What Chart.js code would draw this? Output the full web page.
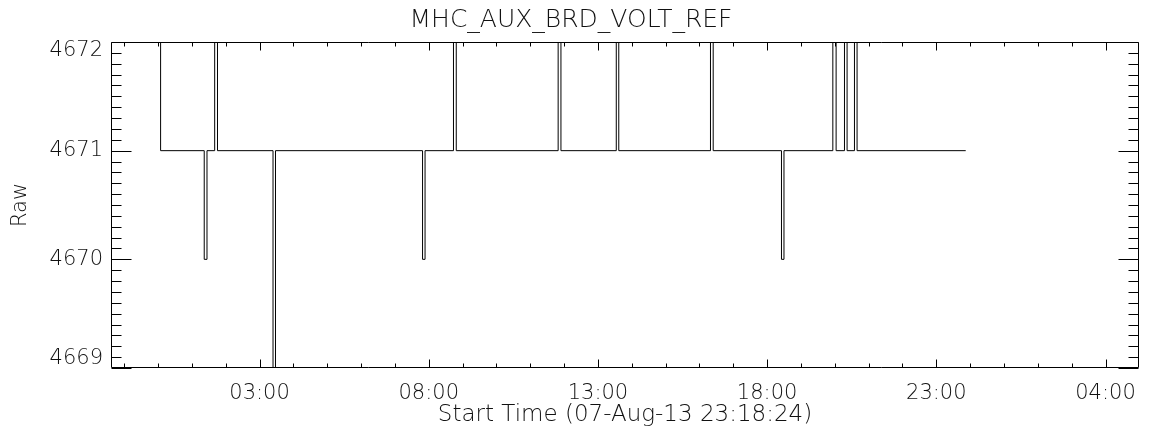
<!DOCTYPE html>
<html>
<head>
<meta charset="utf-8">
<script src="https://cdn.jsdelivr.net/npm/chart.js@4/dist/chart.umd.min.js"></script>
<style>
  body { margin: 0; background: #fff; }
  #wrap { width: 1149px; height: 438px; }
</style>
</head>
<body>
<div id="wrap"><canvas id="voltChart"></canvas></div>
<script>
// Hours since 07-Aug-13 00:00 at which the raw value changes
const times = [24.074, 24.076, 25.365, 25.447, 25.674, 25.757, 27.398, 27.471,
    31.817, 31.891, 32.731, 32.813, 35.824, 35.907, 37.542, 37.616,
    40.326, 40.406, 42.424, 42.498, 43.942, 44.039, 44.286, 44.363,
    44.581, 44.658, 47.869];
const raw = [4672, 4671, 4670, 4671, 4672, 4671, 4669, 4671,
    4670, 4671, 4672, 4671, 4672, 4671, 4672, 4671,
    4672, 4671, 4670, 4671, 4672, 4671, 4672, 4671,
    4672, 4671, 4671];

// Axis ticks
const tickHours = [27, 32, 37, 42, 47, 52];
const tickLabels = ["03:00", "08:00", "13:00", "18:00", "23:00", "04:00"];
const yTicks = [4669, 4670, 4671, 4672];

const FONT = "'DejaVu Sans', sans-serif";
Chart.defaults.color = "#111";

// IDL style box with inward ticks on all four sides
const boxTicks = {
    id: "boxTicks",
    afterDatasetsDraw(chart) {
        const { ctx, chartArea: a, scales: { x, y } } = chart;
        const L = Math.round(a.left) + 0.5, R = Math.round(a.right) - 0.5;
        const T = Math.round(a.top) + 0.5, B = Math.round(a.bottom) - 0.5;
        ctx.save();
        ctx.strokeStyle = "#000";
        ctx.lineWidth = 1;
        ctx.beginPath();
        ctx.rect(L, T, R - L, B - T);
        for (let h = Math.ceil(x.min); h <= x.max; h++) {
            const px = Math.round(x.getPixelForValue(h)) + 0.5;
            const len = tickHours.includes(h) ? 8 : 4;
            ctx.moveTo(px, B); ctx.lineTo(px, B - len);
            ctx.moveTo(px, T); ctx.lineTo(px, T + len);
        }
        for (let i = 0; i <= 30; i++) {
            const py = Math.round(y.getPixelForValue(y.min + i / 10)) + 0.5;
            const len = i % 10 === 0 ? 20 : 10;
            ctx.moveTo(L, py); ctx.lineTo(L + len, py);
            ctx.moveTo(R, py); ctx.lineTo(R - len, py);
        }
        ctx.stroke();
        ctx.restore();
    }
};

const ctx = document.getElementById("voltChart").getContext("2d");
new Chart(ctx, {
    type: "line",
    data: {
        datasets: [{
            data: times.map((t, i) => ({ x: t, y: raw[i] })),
            borderColor: "#000",
            borderWidth: 1,
            pointRadius: 0,
            fill: false,
            stepped: true,
        }],
    },
    options: {
        responsive: true,
        maintainAspectRatio: false,
        animation: false,
        layout: { padding: { left: 0, right: 7, top: 0, bottom: 0 } },
        plugins: {
            legend: { display: false },
            tooltip: { enabled: false },
            title: {
                display: true,
                text: "MHC_AUX_BRD_VOLT_REF",
                font: { family: FONT, size: 25, weight: "200" },
                padding: { top: 5, bottom: 7 },
            },
        },
        scales: {
            x: {
                type: "linear",
                min: 22.61,
                max: 52.99,
                afterBuildTicks: (scale) => { scale.ticks = tickHours.map((v) => ({ value: v })); },
                afterFit: (scale) => { scale.height = 70; },
                grid: { display: false, drawTicks: false },
                border: { display: false },
                ticks: {
                    autoSkip: false,
                    maxRotation: 0,
                    padding: 13,
                    font: { family: FONT, size: 21, weight: "200" },
                    callback: (v) => tickLabels[tickHours.indexOf(v)],
                },
                title: {
                    display: true,
                    text: "Start Time (07-Aug-13 23:18:24)",
                    font: { family: FONT, size: 23, weight: "200" },
                    padding: { top: 0, bottom: 9 },
                },
            },
            y: {
                min: 4669,
                max: 4672,
                afterBuildTicks: (scale) => { scale.ticks = yTicks.map((v) => ({ value: v })); },
                afterFit: (scale) => { scale.width = 111; },
                grid: { display: false, drawTicks: false },
                border: { display: false },
                ticks: {
                    padding: 8,
                    font: { family: FONT, size: 21, weight: "200", lineHeight: 18 / 21 },
                    // end labels sit just inside the axis range, as in IDL plots
                    callback: (v) => v === 4672 ? ["", String(v)] : v === 4669 ? [String(v), ""] : String(v),
                },
                title: {
                    display: true,
                    text: "Raw",
                    font: { family: FONT, size: 21, weight: "200" },
                    padding: { top: 8, bottom: 0 },
                },
            },
        },
    },
    plugins: [boxTicks],
});
</script>
</body>
</html>
